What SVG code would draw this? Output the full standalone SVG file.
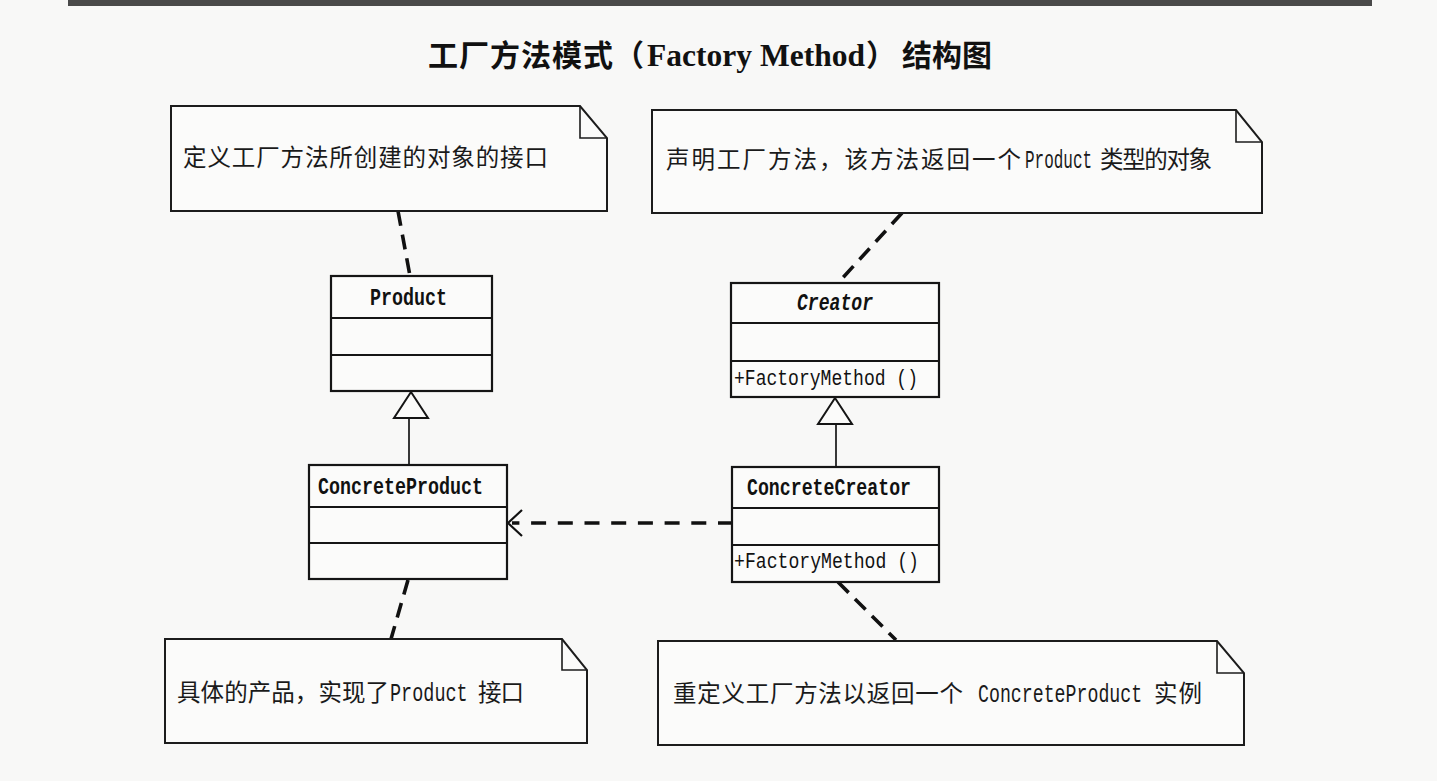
<svg xmlns="http://www.w3.org/2000/svg" width="1437" height="781" viewBox="0 0 1437 781">
<defs>
<style>
.bg{fill:#f8f8f7}
.note{fill:#fbfbfa;stroke:#1c1c1c;stroke-width:2}
.fold{fill:none;stroke:#1c1c1c;stroke-width:1.6}
.box{fill:#fbfbfa;stroke:#151515;stroke-width:2.2}
.div{stroke:#151515;stroke-width:2}
.inh{stroke:#222;stroke-width:1.8;fill:none}
.tri{fill:#fbfbfa;stroke:#151515;stroke-width:2}
.dash{stroke:#111;stroke-width:3.6;fill:none;stroke-dasharray:15 9}
.dep{stroke:#111;stroke-width:3.6;fill:none;stroke-dasharray:15 11.7}
.head{stroke:#111;stroke-width:2.2;fill:none}
.cjk{font-family:"Noto Sans CJK SC","Liberation Sans",sans-serif;font-size:23.5px;fill:#1a1a1a}
.lat{font-family:"Liberation Mono","Noto Sans CJK SC",monospace;font-size:25px;fill:#1a1a1a}
.cls{font-family:"Liberation Mono","Noto Sans CJK SC",monospace;font-size:24px;font-weight:bold;fill:#111}
.op{font-family:"Liberation Mono","Noto Sans CJK SC",monospace;font-size:22px;fill:#111}
.tcjk{font-family:"Noto Sans CJK SC","Liberation Sans",sans-serif;font-size:30px;font-weight:bold;fill:#111}
.ten{font-family:"Liberation Serif","Noto Sans CJK SC",serif;font-size:31px;font-weight:bold;fill:#111}
</style>
</defs>
<rect class="bg" x="0" y="0" width="1437" height="781"/>
<rect x="68" y="0" width="1304" height="6" fill="#4a4a4a"/>

<g id="title">
<text y="66"><tspan class="tcjk" x="428" letter-spacing="1">工厂方法模式（</tspan><tspan class="ten" x="647" textLength="218" lengthAdjust="spacingAndGlyphs">Factory Method</tspan><tspan class="tcjk" x="866">）</tspan><tspan class="tcjk" x="902">结构图</tspan></text>
</g>

<g id="connectors">
<path class="dash" d="M398,211 L410,276"/>
<path class="dash" d="M902,213 L838,283"/>
<path class="dash" d="M408,580 L391,639"/>
<path class="dash" d="M838,582 L896,640"/>
<path class="dep" d="M733,523 H512"/>
<path class="head" d="M522,510 L508,523 L522,536"/>
<path class="inh" d="M409,418 V465"/>
<path class="tri" d="M411,392 L394,418 L428,418 Z"/>
<path class="inh" d="M836,424 V467"/>
<path class="tri" d="M835,398 L818,424 L852,424 Z"/>
</g>

<g id="note-product">
<path class="note" d="M171,106 H580 L607,138 V211 H171 Z"/>
<path class="fold" d="M580,106 V138 H607"/>
<text class="cjk" x="183" y="166" textLength="365" lengthAdjust="spacing">定义工厂方法所创建的对象的接口</text>
</g>

<g id="note-creator">
<path class="note" d="M652,110 H1236 L1262,142 V213 H652 Z"/>
<path class="fold" d="M1236,110 V142 H1262"/>
<text class="cjk" x="666" y="168" textLength="355" lengthAdjust="spacing">声明工厂方法，该方法返回一个</text>
<text class="lat" transform="translate(1025,168) scale(0.64,1)" font-size="23">Product</text>
<text class="cjk" x="1100" y="168" textLength="112" lengthAdjust="spacing">类型的对象</text>
</g>

<g id="note-concreteproduct">
<path class="note" d="M165,639 H562 L587,670 V743 H165 Z"/>
<path class="fold" d="M562,639 V670 H587"/>
<text class="cjk" x="177" y="701" textLength="212" lengthAdjust="spacing">具体的产品，实现了</text>
<text class="lat" transform="translate(390,701) scale(0.74,1)">Product</text>
<text class="cjk" x="478" y="701" textLength="46" lengthAdjust="spacing">接口</text>
</g>

<g id="note-concretecreator">
<path class="note" d="M658,641 H1217 L1244,673 V745 H658 Z"/>
<path class="fold" d="M1217,641 V673 H1244"/>
<text class="cjk" x="673" y="702" textLength="290" lengthAdjust="spacing">重定义工厂方法以返回一个</text>
<text class="lat" transform="translate(978,702) scale(0.73,1)">ConcreteProduct</text>
<text class="cjk" x="1154" y="702" textLength="48" lengthAdjust="spacing">实例</text>
</g>

<g id="class-product">
<rect class="box" x="331" y="276" width="161" height="115"/>
<path class="div" d="M331,318 H492 M331,355 H492"/>
<text class="cls" x="370" y="305" textLength="77" lengthAdjust="spacingAndGlyphs">Product</text>
</g>

<g id="class-concreteproduct">
<rect class="box" x="309" y="465" width="198" height="114"/>
<path class="div" d="M309,507 H507 M309,543 H507"/>
<text class="cls" x="318" y="494" textLength="165" lengthAdjust="spacingAndGlyphs">ConcreteProduct</text>
</g>

<g id="class-creator">
<rect class="box" x="731" y="283" width="208" height="114"/>
<path class="div" d="M731,323 H939 M731,361 H939"/>
<text class="cls" x="797" y="310" font-style="italic" textLength="76" lengthAdjust="spacingAndGlyphs">Creator</text>
<text class="op" x="734" y="385" textLength="184" lengthAdjust="spacingAndGlyphs">+FactoryMethod ()</text>
</g>

<g id="class-concretecreator">
<rect class="box" x="732" y="467" width="207" height="115"/>
<path class="div" d="M732,508 H939 M732,545 H939"/>
<text class="cls" x="747" y="495" textLength="164" lengthAdjust="spacingAndGlyphs">ConcreteCreator</text>
<text class="op" x="734" y="568" textLength="185" lengthAdjust="spacingAndGlyphs">+FactoryMethod ()</text>
</g>
</svg>
